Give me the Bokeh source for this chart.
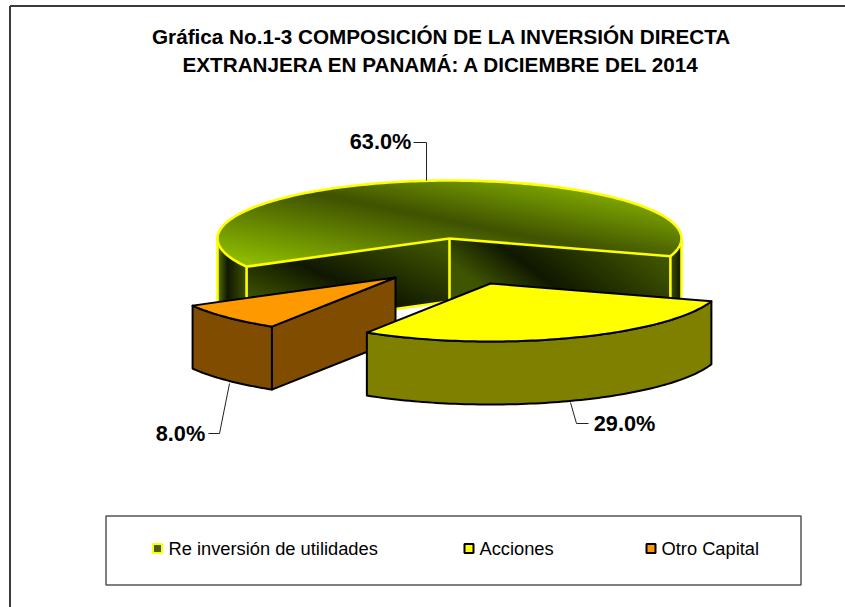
import numpy as np
from bokeh.plotting import figure
from bokeh.models import Range1d
from bokeh.core.properties import value
from bokeh.embed import file_html
from bokeh.resources import INLINE

# ---- data ----
categories = ["Re inversión de utilidades", "Acciones", "Otro Capital"]
shares = [63.0, 29.0, 8.0]
title_lines = ["Gráfica No.1-3 COMPOSICIÓN DE LA INVERSIÓN DIRECTA",
               "EXTRANJERA EN PANAMÁ: A DICIEMBRE DEL 2014"]

# ---- geometry / style ----
FONT = value("Liberation Sans")
A, B, DEPTH = 232.0, 58.0, 63.0
START = 209.0
centers = [(449.0, 238.0), (490.0, 283.0), (395.0, 277.0)]
GREEN_TOP = [(-214, "#94C400"), (-126, "#3F5200"), (-68, "#7FA800")]
WALL_BRIGHT, WALL_DARK = "#3F5500", "#101800"

p = figure(width=845, height=607, output_backend="svg", toolbar_location=None,
           x_range=Range1d(0, 845), y_range=Range1d(607, 0), min_border=0)
p.axis.visible = False
p.grid.visible = False
p.outline_line_color = None
p.background_fill_color = "white"
p.border_fill_color = "white"


def hex2rgb(h):
    return np.array([int(h[i:i + 2], 16) for i in (1, 3, 5)], float)


def ramp(stops, t):
    ts = [s[0] for s in stops]
    cols = np.array([hex2rgb(s[1]) for s in stops])
    c = [np.interp(t, ts, cols[:, i]) for i in range(3)]
    return "#%02x%02x%02x" % tuple(int(round(v)) for v in c)


def arc(c, a0, a1, dy=0.0, n=90):
    th = np.radians(np.linspace(a0, a1, n))
    return list(zip(c[0] + A * np.cos(th), c[1] - B * np.sin(th) + dy))


def clip(poly, f, lim, keep_low):
    out = []
    m = len(poly)
    for i in range(m):
        P, Q = poly[i], poly[(i + 1) % m]
        fp, fq = f(P) - lim, f(Q) - lim
        if not keep_low:
            fp, fq = -fp, -fq
        if fp <= 0:
            out.append(P)
        if (fp < 0 < fq) or (fq < 0 < fp):
            s = fp / (fp - fq)
            out.append((P[0] + s * (Q[0] - P[0]), P[1] + s * (Q[1] - P[1])))
    return out


def gradient(poly, nx, ny, stops, step=2.0):
    f = lambda q: nx * q[0] + ny * q[1]
    vals = [f(q) for q in poly]
    t0, t1 = min(vals), max(vals)
    xs, ys, cols = [], [], []
    t = t0
    while t < t1:
        band = clip(poly, f, t, False)
        if band:
            band = clip(band, f, t + step + 1.0, True)
        if len(band) >= 3:
            xs.append([q[0] for q in band])
            ys.append([q[1] for q in band])
            cols.append(ramp(stops, t + step / 2))
        t += step
    p.patches(xs, ys, fill_color=cols, line_color=None)


def outline(pts, color, width=2.6):
    p.line([q[0] for q in pts], [q[1] for q in pts], line_color=color,
           line_width=width, line_join="round")


def wall(pts):
    return pts + [(x, y + DEPTH) for x, y in reversed(pts)]


def flat(pts, fill, stroke, width=2.0):
    p.patch([q[0] for q in pts], [q[1] for q in pts], fill_color=fill,
            line_color=stroke, line_width=width, line_join="round")


# angles from the shares
ang = [START]
for s in shares:
    ang.append(ang[-1] - s * 3.6)

# frame running off the page
p.segment([9.5, 9.5], [5.5, 5.5], [845, 9.5], [5.5, 607], line_color="#3a3a3a", line_width=2)

# ---- Re inversión slice ----
c = centers[0]
YEL = "#FFFF00"
apex = c
L = arc(c, ang[0], ang[0], n=1)[0]
R = arc(c, ang[1], ang[1], n=1)[0]
left_wall = arc(c, 180, ang[0], n=20)
right_wall = arc(c, ang[1], 0, n=20)

gradient(wall(left_wall), 1, 0, [(219, "#4A6500"), (227, WALL_DARK), (247, WALL_BRIGHT)], 1.0)
gradient(wall(right_wall), 1, 0, [(670, WALL_BRIGHT), (680, WALL_DARK)], 1.0)
gradient(wall([L, apex]), .4, -.92, [(-175, WALL_BRIGHT), (-123, WALL_DARK), (-50, WALL_BRIGHT)])
gradient(wall([apex, R]), .6, -.8, [(60, WALL_BRIGHT), (104, WALL_DARK), (189, WALL_BRIGHT)])

for q in [(c[0] - A, c[1]), L, apex, R, (c[0] + A, c[1])]:
    outline([q, (q[0], q[1] + DEPTH)], YEL)
outline([(L[0], L[1] + DEPTH), (apex[0], apex[1] + DEPTH), (R[0], R[1] + DEPTH)], YEL)

sector = [apex] + arc(c, ang[0], ang[1], n=200)
gradient(sector, .2, -.98, GREEN_TOP)
outline(sector + [apex], YEL)

# ---- Otro Capital slice ----
c = centers[2]
ORANGE, BROWN = "#FF9900", "#804D00"
o_arc = arc(c, ang[2], ang[3], n=40)
flat(wall([c, o_arc[0]]), BROWN, "black")
flat(wall(o_arc), BROWN, "black")
flat([c] + o_arc, ORANGE, "black")

# ---- Acciones slice ----
c = centers[1]
YELLOW, OLIVE = "#FFFF00", "#808000"
a_arc = arc(c, ang[1], ang[2], n=90)
flat(wall(a_arc), OLIVE, "black")
flat([c] + a_arc, YELLOW, "black")

# ---- data labels and leader lines ----
label_x = [380, 624, 180]
label_y = [141, 423, 433]
p.text(label_x, label_y, text=["%.1f%%" % s for s in shares], text_font=FONT,
       text_font_size="21.7px", text_font_style="bold", text_color="black",
       text_align="center", text_baseline="middle")
leaders = [([413, 426, 426], [142, 142, 180]),
           ([570, 576, 588], [402, 423, 423]),
           ([229, 219, 208], [383, 433, 433])]
for lx, ly in leaders:
    p.line(lx, ly, line_color="#222222", line_width=1)

# ---- title ----
p.text([441, 441], [36, 64], text=title_lines, text_font=FONT, text_font_size="20.7px",
       text_font_style="bold", text_color="black", text_align="center",
       text_baseline="middle")

# ---- legend ----
p.quad(left=[105.5], right=[800.5], top=[515.5], bottom=[584.5], fill_color="white",
       line_color="#555555", line_width=1.5)
swatch_x = [157, 468.5, 650.5]
text_x = [168, 479, 661]
swatch_fill = ["#4A6000", "#FFFF00", "#FF9900"]
swatch_line = ["#FFFF00", "black", "black"]
p.rect(swatch_x, [548] * 3, width=9, height=9, fill_color=swatch_fill,
       line_color=swatch_line, line_width=2)
p.text(text_x, [548] * 3, text=categories, text_font=FONT, text_font_size="18.3px",
       text_color="black", text_align="left", text_baseline="middle")

open("out.html", "w").write(file_html(p, INLINE))
